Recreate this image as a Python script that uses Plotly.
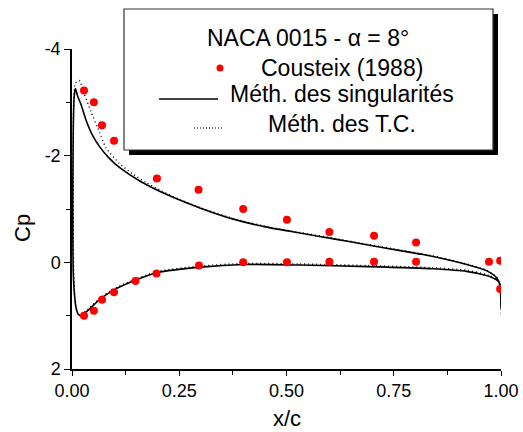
import plotly.graph_objects as go

# ---- chart data -------------------------------------------------------------
# Cousteix (1988) measurements, suction side then pressure side
exp_x_upper = [0.028, 0.051, 0.070, 0.098, 0.198, 0.295, 0.399, 0.501, 0.600, 0.704, 0.802, 0.972, 0.998]
exp_cp_upper = [-3.22, -3.00, -2.57, -2.28, -1.57, -1.36, -1.00, -0.80, -0.57, -0.50, -0.37, -0.01, -0.03]
exp_x_lower = [0.028, 0.051, 0.070, 0.098, 0.148, 0.197, 0.296, 0.399, 0.501, 0.600, 0.704, 0.802, 0.998]
exp_cp_lower = [1.00, 0.91, 0.70, 0.56, 0.35, 0.21, 0.06, 0.00, 0.00, -0.01, -0.01, -0.01, 0.50]

# Singularity method: contour from trailing edge (pressure side), round the
# leading edge, back along the suction side to the trailing edge
sing_x = [1.000, 1.000, 0.995, 0.975, 0.920, 0.840, 0.690, 0.530, 0.400, 0.300, 0.200, 0.140,
          0.095, 0.064, 0.040, 0.021, 0.014, 0.009, 0.005, 0.003, 0.002, 0.002, 0.003, 0.005,
          0.008, 0.013, 0.021, 0.033, 0.048, 0.065, 0.087, 0.112, 0.159, 0.221, 0.298, 0.376,
          0.454, 0.531, 0.610, 0.687, 0.765, 0.842, 0.920, 0.967, 0.990, 0.998, 1.000]
sing_cp = [0.86, 0.50, 0.37, 0.27, 0.17, 0.12, 0.08, 0.05, 0.04, 0.09, 0.19, 0.36,
           0.53, 0.70, 0.88, 1.00, 0.97, 0.83, 0.52, 0.20, -0.50, -1.50, -2.50, -3.10,
           -3.26, -3.12, -2.96, -2.66, -2.38, -2.16, -1.95, -1.77, -1.52, -1.27, -1.02, -0.81,
           -0.66, -0.55, -0.44, -0.33, -0.22, -0.11, 0.04, 0.16, 0.29, 0.45, 0.86]

# Boundary-layer (T.C.) method, same contour order
tc_x = [1.000, 1.000, 0.995, 0.975, 0.920, 0.840, 0.690, 0.530, 0.400, 0.300, 0.200, 0.140,
        0.095, 0.064, 0.040, 0.021, 0.013, 0.008, 0.005, 0.004, 0.003, 0.003, 0.003, 0.004,
        0.008, 0.017, 0.029, 0.044, 0.060, 0.079, 0.110, 0.141, 0.172, 0.211, 0.250, 0.298,
        0.376, 0.454, 0.531, 0.610, 0.687, 0.765, 0.842, 0.920, 0.967, 0.990, 0.998, 1.000]
tc_cp = [0.95, 0.50, 0.36, 0.25, 0.15, 0.10, 0.06, 0.03, 0.02, 0.07, 0.17, 0.34,
         0.51, 0.68, 0.86, 0.98, 0.95, 0.80, 0.50, 0.20, -0.50, -1.50, -2.50, -3.10,
         -3.36, -3.41, -3.15, -2.83, -2.52, -2.15, -1.86, -1.66, -1.50, -1.33, -1.18, -1.03,
         -0.82, -0.67, -0.56, -0.45, -0.34, -0.23, -0.12, 0.03, 0.15, 0.28, 0.45, 0.95]

x_tickvals = [0.0, 0.25, 0.5, 0.75, 1.0]
x_ticktext = ["0.00", "0.25", "0.50", "0.75", "1.00"]
y_tickvals = [-4, -2, 0, 2]
y_ticktext = ["-4", "-2", "0", "2"]

legend_title = "NACA 0015 - α = 8°"
legend_labels = ["Cousteix (1988)", "Méth. des singularités", "Méth. des T.C."]

# ---- page geometry ----------------------------------------------------------
W, H = 523, 432
ML, MR, MT, MB = 72, 22, 49, 63
FONT = "Liberation Sans, Arial, sans-serif"


def px(x):
    """pixel column -> paper x"""
    return (x - ML) / (W - ML - MR)


def py(y):
    """pixel row -> paper y"""
    return (H - MB - y) / (H - MT - MB)


fig = go.Figure()

fig.add_trace(go.Scatter(x=sing_x, y=sing_cp, mode="lines",
                         line=dict(color="black", width=1.6, shape="spline", smoothing=0.6),
                         showlegend=False))
fig.add_trace(go.Scatter(x=tc_x, y=tc_cp, mode="lines",
                         line=dict(color="black", width=1.4, dash="1px,3px", shape="spline", smoothing=0.6),
                         showlegend=False))
fig.add_trace(go.Scatter(x=exp_x_upper + exp_x_lower, y=exp_cp_upper + exp_cp_lower, mode="markers",
                         marker=dict(color="#ff0000", size=8, line=dict(width=0)), showlegend=False))

fig.update_layout(
    width=W, height=H,
    margin=dict(l=ML, r=MR, t=MT, b=MB, autoexpand=False),
    paper_bgcolor="white", plot_bgcolor="white",
    font=dict(family=FONT, color="black", size=18),
    showlegend=False,
)

fig.update_xaxes(
    range=[0, 1], showgrid=False, zeroline=False, automargin=False,
    showline=True, linecolor="black", linewidth=1.5,
    ticks="outside", ticklen=5, tickwidth=1.3, tickcolor="black",
    tickvals=x_tickvals, ticktext=x_ticktext,
    tickfont=dict(size=18, family=FONT),
    minor=dict(ticks="outside", ticklen=4, tickwidth=1.2, tickcolor="black", dtick=0.125, showgrid=False),
)
fig.update_yaxes(
    range=[2, -4], showgrid=False, zeroline=False, automargin=False,
    showline=True, linecolor="black", linewidth=1.5,
    ticks="outside", ticklen=6, tickwidth=1.3, tickcolor="black",
    tickvals=y_tickvals, ticktext=y_ticktext,
    tickfont=dict(size=18, family=FONT),
    minor=dict(ticks="outside", ticklen=4, tickwidth=1.2, tickcolor="black", dtick=1, showgrid=False),
)

# axis titles
fig.add_annotation(text="Cp", xref="paper", yref="paper", x=px(22), y=py(228),
                   showarrow=False, textangle=-90, font=dict(size=22, family=FONT),
                   xanchor="center", yanchor="middle")
fig.add_annotation(text="x/c", xref="paper", yref="paper", x=px(287), y=py(418),
                   showarrow=False, font=dict(size=22, family=FONT),
                   xanchor="center", yanchor="middle")

# legend box with drop shadow
fig.add_shape(type="rect", xref="paper", yref="paper",
              x0=px(129), x1=px(498), y0=py(155), y1=py(14),
              fillcolor="black", line=dict(width=0), layer="above")
fig.add_shape(type="rect", xref="paper", yref="paper",
              x0=px(124), x1=px(493), y0=py(150), y1=py(9),
              fillcolor="white", line=dict(color="#333333", width=1.2), layer="above")

# legend samples
fig.add_shape(type="circle", xref="paper", yref="paper",
              x0=px(216.5), x1=px(223.5), y0=py(71.5), y1=py(64.5),
              fillcolor="#ff0000", line=dict(width=0), layer="above")
fig.add_shape(type="line", xref="paper", yref="paper",
              x0=px(159), x1=px(218), y0=py(99), y1=py(99),
              line=dict(color="black", width=1.6), layer="above")
fig.add_shape(type="line", xref="paper", yref="paper",
              x0=px(194), x1=px(222), y0=py(128), y1=py(128),
              line=dict(color="black", width=1.2, dash="1px,2px"), layer="above")

# legend texts
fig.add_annotation(text=legend_title, xref="paper", yref="paper", x=px(308), y=py(38),
                   showarrow=False, font=dict(size=23, family=FONT),
                   xanchor="center", yanchor="middle")
for label, yc in zip(legend_labels, [68, 94, 124]):
    fig.add_annotation(text=label, xref="paper", yref="paper", x=px(342), y=py(yc),
                       showarrow=False, font=dict(size=23, family=FONT),
                       xanchor="center", yanchor="middle")

fig.write_html("out.html")
